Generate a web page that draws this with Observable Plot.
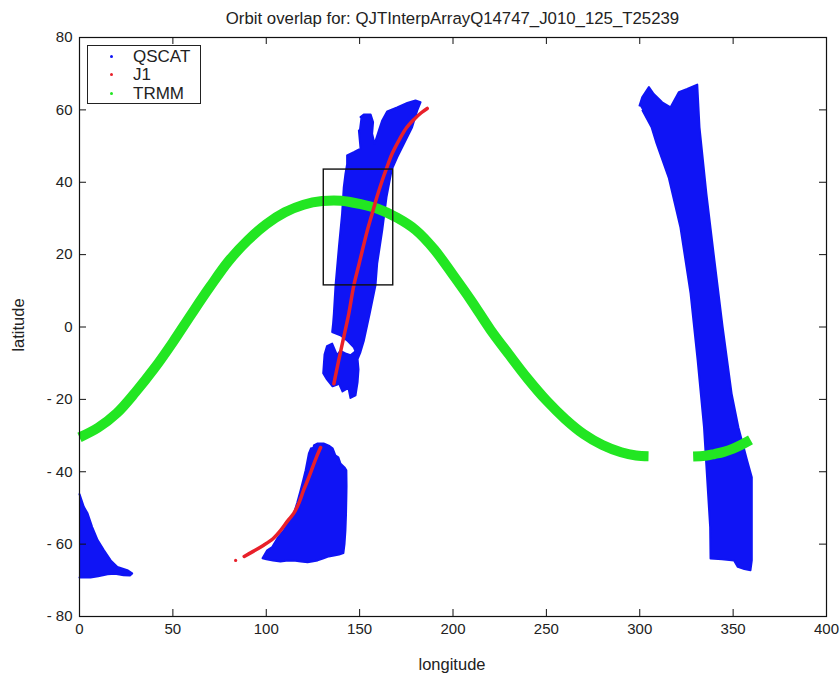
<!DOCTYPE html>
<html>
<head>
<meta charset="utf-8">
<script src="https://cdn.jsdelivr.net/npm/d3@7"></script>
<script src="https://cdn.jsdelivr.net/npm/@observablehq/plot@0.6"></script>
<style>
  body { margin: 0; background: #fff; font-family: "Liberation Sans", Arial, sans-serif; }
  #wrap { position: relative; width: 840px; height: 679px; }
  #title { position: absolute; left: 79px; width: 747px; top: 10px; text-align: center; font-size: 16.8px; color: #222; line-height: 18px; white-space: nowrap; }
  #ylab { position: absolute; left: 18px; top: 325px; transform: translate(-50%, -50%) rotate(-90deg); font-size: 16.5px; color: #222; white-space: nowrap; }
  #xlab { position: absolute; left: 452px; top: 664px; transform: translate(-50%, -50%); font-size: 16.5px; color: #222; }
  #legend { position: absolute; left: 87px; top: 45px; width: 114px; height: 59px; border: 1px solid #222; background: #fff; box-sizing: border-box; }
  .row { position: absolute; left: 0; height: 19px; line-height: 19px; font-size: 17px; color: #222; }
  .dot { position: absolute; left: 22px; top: 8px; width: 3px; height: 3px; border-radius: 50%; }
  .lt { position: absolute; left: 45px; top: 0; }
</style>
</head>
<body>
<div id="wrap">
  <div id="chart"></div>
  <div id="title"></div>
  <div id="ylab"></div>
  <div id="xlab"></div>
  <div id="legend"></div>
</div>
<script>
// ---------- text ----------
const titleText = "Orbit overlap for: QJTInterpArrayQ14747_J010_125_T25239";
const xLabel = "longitude";
const yLabel = "latitude";
const seriesNames = ["QSCAT", "J1", "TRMM"];
const seriesColors = ["#0f14f5", "#e8202a", "#22e622"];

// ---------- ticks ----------
const xTicks = [0, 50, 100, 150, 200, 250, 300, 350, 400];
const yTicks = [-80, -60, -40, -20, 0, 20, 40, 60, 80];

// ---------- QSCAT swath outlines [lon, lat] ----------
const qscatWest = [[0,-46.2],[2.3,-49.7],[4.3,-51.5],[6.8,-55.3],[9.7,-58.9],[13.1,-61.7],[16.7,-64.5],[20.3,-66.3],[25.6,-67.2],[28.2,-68.1],[27,-68.7],[23.6,-68.6],[19,-68.2],[15,-68.3],[10,-68.9],[5.9,-69.2],[0,-69.2]];

const qscatSouth = [[125.5,-32.7],[127.5,-32.2],[130.7,-32.2],[133.5,-32.8],[135.5,-33.5],[137,-35.5],[138.6,-36],[139.7,-37.7],[141.9,-38.8],[142.9,-39.6],[143,-44],[142.9,-47.1],[142.7,-52],[142.4,-56.2],[141.9,-60],[141.3,-62.5],[139,-62.9],[137,-63.1],[133.5,-63.4],[130.7,-63.9],[127.5,-64.5],[124.5,-64.8],[122.1,-65],[118.5,-64.8],[114.6,-64.5],[110.6,-64.6],[107.6,-64.8],[103.6,-64.5],[100.1,-64.2],[98,-63.9],[100.5,-61.7],[103.2,-60.8],[106.1,-58.3],[109.4,-56.2],[112.2,-53.8],[114.8,-51.6],[116.6,-48.5],[118.4,-45.1],[119.8,-42.3],[121.1,-39.6],[122.8,-35],[124,-33.5]];

const qscatCentral = [[150.5,58],[152.2,58.7],[155.9,58.7],[157.2,56.6],[156.7,53.4],[158,50.6],[160.3,54.3],[162.1,57.1],[164.8,59.6],[170.1,60.7],[175.5,61.9],[179.9,62.6],[182.6,62.1],[180.8,59.8],[178.1,55.2],[173.7,50.6],[170.1,46.9],[167.2,43.5],[164.4,35.9],[162.1,26.7],[159.4,17.5],[158.5,11.5],[155.4,3.7],[152.3,-3.7],[150.4,-7],[148.9,-8.9],[149.4,-11.7],[148.9,-15.3],[147.8,-18.9],[145.1,-19.6],[144,-16.8],[142.4,-17.3],[140.8,-17.8],[138.9,-15.6],[138.1,-15.9],[135.5,-16.4],[132.5,-14.5],[130.5,-12.8],[131.2,-7.6],[132.5,-5.3],[135.3,-4.6],[137.9,-7.8],[139.7,-6.6],[142.4,-7.3],[145.1,-7.8],[147.8,-6.7],[146.9,-5.6],[143.3,-3.7],[139.7,-2.3],[135.3,-1.4],[135.8,1],[136.2,3.7],[137.1,11.5],[138.9,22.1],[140.6,31.3],[141.5,38.6],[142.4,42.3],[143.3,45],[143.3,47.4],[146.9,48.3],[150.5,49.3],[149.6,54.3]];

const qscatEast = [[299.9,61.2],[301.3,63.5],[304.9,66.3],[307.5,64.4],[312,62.1],[316.5,60.7],[320.9,64.9],[325.4,65.8],[330.8,67],[332,55.2],[335.7,36.8],[340,18.4],[344.4,0],[349.2,-18.4],[352.8,-27.7],[357.5,-36.9],[360,-41.5],[360,-64.5],[359.3,-67.2],[356,-66.9],[352.5,-66.3],[350.5,-64.5],[344,-64.2],[337.9,-64],[337.7,-55.4],[334.4,-27.7],[331,-9.2],[327.2,9.3],[321.8,27.5],[315.5,41.3],[309,50.7],[306.4,55.1],[301.5,59.8]];

// ---------- J1 track [lon, lat] ----------
const j1South = [[88.2,-63.4],[93,-62],[98.6,-60.3],[103.6,-58.5],[107.7,-56.2],[111.6,-53.5],[114.7,-51.5],[117.6,-48.5],[120,-45.1],[122.6,-41.8],[124.8,-38.8],[127,-35.8],[129.1,-33.3]];
const j1Isolated = [[83.6,-64.5]];
const j1North = [[136.2,-15.7],[138.8,-9.2],[141.5,-2.8],[144.2,3.7],[146.9,11.5],[149.5,17],[151.9,22.1],[154.3,27],[156.7,31.3],[159.3,36],[162.1,40.5],[164.5,44],[167.5,48],[171.5,52],[175,55],[179,57.3],[183,59.2],[186.2,60.4]];

// ---------- TRMM track [lon, lat] ----------
const trmmMain = [[0,-30.5],[10,-27.8],[20,-23.8],[30,-18],[40,-11.5],[50,-4.2],[60,3.6],[70,11.2],[80,18.3],[90,23.9],[100,28.4],[110,31.7],[120,33.8],[130,34.8],[140,34.9],[150,34],[160,32.6],[170,30.2],[180,26.8],[190,21.4],[200,14.4],[210,7.1],[220,-0.7],[230,-7.6],[240,-14.3],[250,-20.3],[260,-25.4],[270,-29.6],[280,-32.6],[290,-34.6],[298,-35.5],[304.7,-35.7]];
const trmmEast = [[328.6,-35.8],[335,-35.6],[340,-35.1],[345,-34.5],[350,-33.6],[355,-32.4],[359.3,-31.2]];

// ---------- overlap box ----------
const boxLon = [130.8, 168.0];
const boxLat = [11.5, 43.5];

// ---------- build tables ----------
const qscatRows = [["west", qscatWest], ["south", qscatSouth], ["central", qscatCentral], ["east", qscatEast]]
  .flatMap(([id, pts]) => pts.map(([lon, lat]) => ({id, lon, lat})));
const j1Rows = [["s", j1South], ["n", j1North]]
  .flatMap(([id, pts]) => pts.map(([lon, lat]) => ({id, lon, lat})));
const j1DotRows = j1Isolated.map(([lon, lat]) => ({lon, lat}));
const trmmRows = [["main", trmmMain], ["east", trmmEast]]
  .flatMap(([id, pts]) => pts.map(([lon, lat]) => ({id, lon, lat})));
const boxRows = [{x1: boxLon[0], x2: boxLon[1], y1: boxLat[0], y2: boxLat[1]}];

const W = 840, H = 679, mL = 79, mR = 14, mT = 37, mB = 63;
const innerW = W - mL - mR, innerH = H - mT - mB;
const tickLen = 7;
const BLUE = seriesColors[0], RED = seriesColors[1], GREEN = seriesColors[2];

const chart = Plot.plot({
  width: W, height: H,
  marginLeft: mL, marginRight: mR, marginTop: mT, marginBottom: mB,
  style: {fontFamily: "'Liberation Sans', Arial, sans-serif", fontSize: "15px", color: "#222", background: "#fff", overflow: "visible"},
  x: {domain: [0, 400]},
  y: {domain: [-80, 80]},
  marks: [
    Plot.line(qscatRows, {x: "lon", y: "lat", z: "id", fill: BLUE, stroke: BLUE, strokeWidth: 2, strokeLinejoin: "round"}),
    Plot.line(trmmRows, {x: "lon", y: "lat", z: "id", stroke: GREEN, strokeWidth: 10, strokeLinecap: "butt", curve: "catmull-rom"}),
    Plot.line(j1Rows, {x: "lon", y: "lat", z: "id", stroke: RED, strokeWidth: 3.5, curve: "catmull-rom"}),
    Plot.dot(j1DotRows, {x: "lon", y: "lat", r: 1.6, fill: RED, stroke: null}),
    Plot.rect(boxRows, {x1: "x1", x2: "x2", y1: "y1", y2: "y2", fill: "none", stroke: "#111", strokeWidth: 1.4}),
    Plot.frame({stroke: "#111", strokeWidth: 1.2}),
    Plot.tickX(xTicks, {x: d => d, stroke: "#111", insetTop: innerH - tickLen}),
    Plot.tickX(xTicks, {x: d => d, stroke: "#111", insetBottom: innerH - tickLen}),
    Plot.tickY(yTicks, {y: d => d, stroke: "#111", insetRight: innerW - tickLen}),
    Plot.tickY(yTicks, {y: d => d, stroke: "#111", insetLeft: innerW - tickLen}),
    Plot.axisX({ticks: xTicks, tickSize: 0, tickPadding: 7, label: null, tickFormat: d => String(d)}),
    Plot.axisY({ticks: yTicks, tickSize: 0, tickPadding: 7, label: null, tickFormat: d => d < 0 ? "- " + Math.abs(d) : String(d)})
  ]
});
document.getElementById("chart").appendChild(chart);

document.getElementById("title").textContent = titleText;
document.getElementById("xlab").textContent = xLabel;
document.getElementById("ylab").textContent = yLabel;

const legend = document.getElementById("legend");
seriesNames.forEach((name, i) => {
  const row = document.createElement("div");
  row.className = "row";
  row.style.top = (0.5 + i * 18.8) + "px";
  row.style.width = "100%";
  const dot = document.createElement("div");
  dot.className = "dot";
  dot.style.background = seriesColors[i];
  const t = document.createElement("div");
  t.className = "lt";
  t.textContent = name;
  row.appendChild(dot);
  row.appendChild(t);
  legend.appendChild(row);
});
</script>
</body>
</html>
